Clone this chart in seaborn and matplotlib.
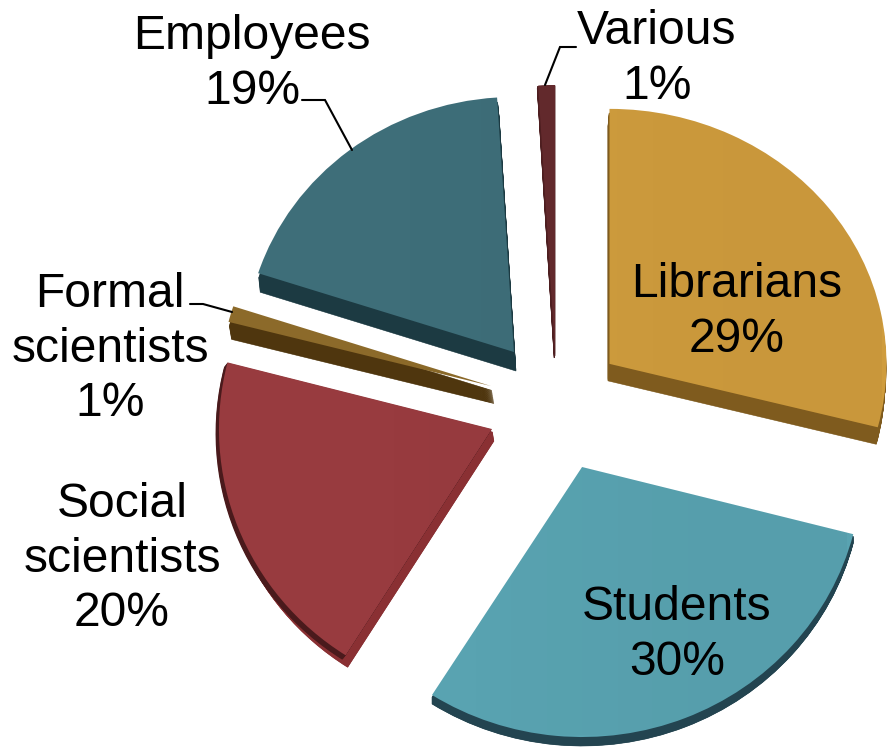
import numpy as np
import matplotlib
matplotlib.use("Agg")
import matplotlib.pyplot as plt
from matplotlib.transforms import Affine2D
import seaborn as sns

# ---- data
categories = ["Librarians", "Students", "Social\nscientists", "Formal\nscientists", "Employees", "Various"]
shares = [29, 30, 20, 1, 19, 1]

# ---- style
top_colors = ["#cf9c3d", "#59a3b1", "#983b3f", "#8c6a2a", "#3e6e79", "#642a2d"]
side_colors = ["#7f5b1e", "#234450", "#8a3033", "#4f360e", "#1c3a42", "#4d1e20"]
rim_color = "#4a1a1c"
explode = [72, 61, 65, 68, 72, 53]
nudge = [(-2.4, 0), (4.6, -2.3), (-2.6, 2.9), (1.3, 3.0), (3.1, -0.9), (1.8, 0)]
stretch = [(277, 255), (280, 270), (273, 268), (271, 258), (269, 255), (270, 270)]
depth = [(-1.5, -17), (0, -9), (2, -12), (3, -17.5), (2, -19), (-1, -3)]
R = 270
W, H = 894, 752
CENTER = (555, H - 408)

sns.set_theme(style="white")
plt.rcParams["font.family"] = ["Liberation Sans", "DejaVu Sans"]

fig = plt.figure(figsize=(W / 100, H / 100), dpi=100, facecolor="white")
ax = fig.add_axes([0, 0, 1, 1])


def layer(colors, shift=None, lw=0.0):
    wedges, _ = ax.pie(shares, explode=explode, colors=colors, radius=R, center=CENTER,
                       startangle=90, counterclock=False, wedgeprops=dict(linewidth=0))
    for i, w in enumerate(wedges):
        cx, cy = w.center
        sx, sy = stretch[i]
        dx, dy = shift[i] if shift is not None else (0, 0)
        tr = (Affine2D().translate(-cx, -cy).scale(sx / R, sy / R)
              .translate(cx + nudge[i][0] + dx, cy + nudge[i][1] + dy))
        w.set_transform(tr + ax.transData)
        if lw:
            w.set_edgecolor(colors[i])
            w.set_linewidth(lw)
    return wedges


# extruded sides
for t in np.linspace(1, 0.25, 20):
    layer(side_colors, [(d[0] * t, d[1] * t) for d in depth], lw=0.4)
# darker outer rim of the third slice
rim = ["none", "none", rim_color, "none", "none", "none"]
for t in np.linspace(1, 0.1, 8):
    layer(rim, [(0, 0), (0, 0), (-3.4 * t, -4.4 * t), (0, 0), (0, 0), (0, 0)])

# top faces with a soft left-to-right shading
tops = layer(top_colors)
shade = np.zeros((2, 2, 4))
shade[:, 1, 3] = 0.03
for w in tops:
    cx, cy = w.center
    im = ax.imshow(shade, extent=(cx - R, cx + R, cy - R, cy + R), aspect="auto",
                   interpolation="bilinear", zorder=w.get_zorder() + 0.1)
    im.set_clip_path(w)

ax.set_aspect("auto")
ax.set_xlim(0, W)
ax.set_ylim(0, H)
ax.axis("off")

# leader lines
leaders = [
    ([302, 325, 352], [100, 100, 150]),
    ([576, 560, 545], [47, 47, 85]),
    ([190, 203, 232], [304, 304, 312]),
]
for xs, ys in leaders:
    ax.plot(xs, [H - y for y in ys], color="black", lw=1.5, zorder=6, solid_joinstyle="miter")

# labels
label_pos = [(737, 312), (677, 635), (122, 559), (110, 349), (252, 64), (657, 59)]
for cat, val, (x, y) in zip(categories, shares, label_pos):
    fig.text(x / W, 1 - y / H, f"{cat}\n{val}%", ha="center", va="center",
             fontsize=34.6, color="black", linespacing=1.28, zorder=10)

fig.savefig("out.png", dpi=100)
